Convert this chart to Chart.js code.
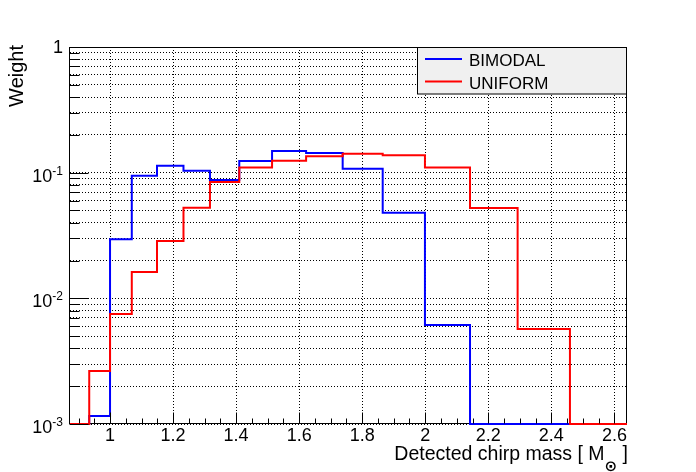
<!DOCTYPE html>
<html>
<head>
<meta charset="utf-8">
<script src="https://cdn.jsdelivr.net/npm/chart.js@4/dist/chart.umd.min.js"></script>
<style>
  html, body { margin: 0; padding: 0; background: #fff; }
  canvas { display: block; }
</style>
</head>
<body>
<canvas id="chart" width="696" height="472"></canvas>
<script>
'use strict';

// bin edges of the histograms (log-spaced)
const binEdges = [0.873, 0.934, 1.000, 1.069, 1.149, 1.233, 1.317, 1.410, 1.514,
    1.622, 1.738, 1.865, 1.999, 2.142, 2.293, 2.459, 2.640];

// weight per bin, 0 = empty bin
const bimodal = [0, 0.00116, 0.0295, 0.0946, 0.1135, 0.1037, 0.0875, 0.1239,
    0.1487, 0.1432, 0.1076, 0.0480, 0.00614, 0, 0, 0];
const uniform = [0, 0.00264, 0.0075, 0.0162, 0.0286, 0.0526, 0.0843, 0.1097,
    0.1245, 0.1349, 0.1415, 0.1374, 0.1097, 0.0524, 0.0057, 0];

const seriesNames = ['BIMODAL', 'UNIFORM'];
const seriesColors = ['#0000ff', '#ff0000'];

const xMin = 0.873;
const xMax = 2.640;
const yMin = 0.001;
const yMax = 1;

const xLabelValues = [1, 1.2, 1.4, 1.6, 1.8, 2, 2.2, 2.4, 2.6];
const xLabels = ['1', '1.2', '1.4', '1.6', '1.8', '2', '2.2', '2.4', '2.6'];
const yLabelValues = [1, 0.1, 0.01, 0.001];
const yLabelExps = ['', '-1', '-2', '-3'];

const FONT = '"Liberation Sans", Arial, Helvetica, sans-serif';
const SUN_FONT = 'bold 15px "DejaVu Sans", sans-serif';

// empty bins sit on the floor of the log axis, as ROOT draws them
function histPoints(values) {
    return binEdges.map((edge, i) => ({
        x: edge,
        y: Math.max(values[Math.min(i, values.length - 1)], yMin),
    }));
}

function isDecade(v) {
    const l = Math.log10(v);
    return Math.abs(l - Math.round(l)) < 1e-6;
}

function isIntegerMantissa(v) {
    const m = v / Math.pow(10, Math.floor(Math.log10(v) + 1e-9));
    return Math.abs(m - Math.round(m)) < 1e-6;
}

function isMajorX(v) {
    return xLabelValues.some(m => Math.abs(m - v) < 1e-6);
}

function frameBox(a) {
    return {
        left: Math.round(a.left) - 0.5,
        right: Math.round(a.right) - 0.5,
        top: Math.round(a.top) + 0.5,
        bottom: Math.round(a.bottom) - 0.5,
    };
}

const rootDecor = {
    id: 'rootDecor',
    beforeDatasetsDraw(chart) {
        // frame goes under the histograms, empty bins cover it
        const {ctx, chartArea} = chart;
        const f = frameBox(chartArea);
        ctx.save();
        ctx.strokeStyle = '#000';
        ctx.lineWidth = 1;
        ctx.strokeRect(f.left, f.top, f.right - f.left, f.bottom - f.top);
        ctx.restore();
    },
    afterDatasetsDraw(chart) {
        const {ctx, chartArea, scales: {x, y}} = chart;
        const f = frameBox(chartArea);
        ctx.save();
        ctx.strokeStyle = '#000';
        ctx.lineWidth = 1;

        // tick marks, pointing into the frame
        ctx.beginPath();
        y.ticks.forEach(t => {
            const py = Math.round(y.getPixelForValue(t.value)) + 0.5;
            const len = isDecade(t.value) ? 19 : 10;
            ctx.moveTo(f.left, py);
            ctx.lineTo(f.left + len, py);
        });
        x.ticks.forEach(t => {
            const px = Math.round(x.getPixelForValue(t.value)) + 0.5;
            const len = isMajorX(t.value) ? 11 : 5;
            ctx.moveTo(px, f.bottom);
            ctx.lineTo(px, f.bottom - len);
        });
        ctx.stroke();

        // x tick labels
        ctx.fillStyle = '#000';
        ctx.font = '18px ' + FONT;
        ctx.textAlign = 'center';
        ctx.textBaseline = 'alphabetic';
        xLabelValues.forEach((v, i) => {
            ctx.fillText(xLabels[i], x.getPixelForValue(v), 441);
        });

        // y tick labels, 10 with a raised exponent
        ctx.textAlign = 'right';
        yLabelValues.forEach((v, i) => {
            const py = y.getPixelForValue(v);
            const lx = 63;
            if (!yLabelExps[i]) {
                ctx.font = '18px ' + FONT;
                ctx.fillText('1', lx, py + 6);
                return;
            }
            ctx.font = '12px ' + FONT;
            const ws = ctx.measureText(yLabelExps[i]).width;
            ctx.fillText(yLabelExps[i], lx, py + 2);
            ctx.font = '18px ' + FONT;
            ctx.fillText('10', lx - ws, py + 9);
        });

        // x title with the solar-mass subscript
        const titleFont = '19.5px ' + FONT;
        ctx.font = titleFont;
        ctx.textAlign = 'left';
        const t1 = 'Detected chirp mass [ M';
        const t3 = ' ]';
        const w1 = ctx.measureText(t1).width;
        const w3 = ctx.measureText(t3).width;
        ctx.font = SUN_FONT;
        const w2 = ctx.measureText('\u2299').width;
        let tx = 628 - (w1 + w2 + w3);
        ctx.font = titleFont;
        ctx.fillText(t1, tx, 460);
        tx += w1;
        ctx.font = SUN_FONT;
        ctx.fillText('\u2299', tx, 471);
        tx += w2;
        ctx.font = titleFont;
        ctx.fillText(t3, tx, 460);

        ctx.save();
        ctx.translate(23, 45);
        ctx.rotate(-Math.PI / 2);
        ctx.textAlign = 'right';
        ctx.font = '20px ' + FONT;
        ctx.fillText('Weight', 0, 0);
        ctx.restore();

        // legend box
        const lx0 = 417.5, ly0 = 47.5, lw = 209, lh = 46.5;
        ctx.fillStyle = '#f0f0f0';
        ctx.fillRect(lx0, ly0, lw, lh);
        ctx.strokeRect(lx0, ly0, lw, lh);
        ctx.font = '17px ' + FONT;
        ctx.textAlign = 'left';
        chart.data.datasets.forEach((ds, i) => {
            const ly = 59 + i * 22.5;
            ctx.strokeStyle = ds.borderColor;
            ctx.lineWidth = 2;
            ctx.beginPath();
            ctx.moveTo(425, ly);
            ctx.lineTo(462, ly);
            ctx.stroke();
            ctx.fillStyle = '#000';
            ctx.fillText(ds.label, 469, ly + 7);
        });
        ctx.restore();
    },
};

new Chart(document.getElementById('chart'), {
    type: 'line',
    data: {
        datasets: [
            {
                label: seriesNames[0],
                data: histPoints(bimodal),
                borderColor: seriesColors[0],
                order: 2,
                clip: false,
            },
            {
                label: seriesNames[1],
                data: histPoints(uniform),
                borderColor: seriesColors[1],
                order: 1,
                clip: false,
            },
        ],
    },
    options: {
        responsive: false,
        devicePixelRatio: 1,
        animation: false,
        layout: {padding: {top: 47, right: 69, left: 0, bottom: 0}},
        elements: {
            line: {borderWidth: 2, stepped: true, tension: 0, fill: false},
            point: {radius: 0, hoverRadius: 0},
        },
        plugins: {legend: {display: false}, tooltip: {enabled: false}},
        scales: {
            x: {
                type: 'linear',
                min: xMin,
                max: xMax,
                ticks: {display: false, stepSize: 0.05, includeBounds: false},
                grid: {
                    drawTicks: false,
                    tickLength: 0,
                    color: c => (c.tick && isMajorX(c.tick.value) ? '#000' : 'rgba(0,0,0,0)'),
                    lineWidth: 1,
                },
                border: {display: false, dash: [1, 2]},
                afterFit: s => { s.height = 48; },
            },
            y: {
                type: 'logarithmic',
                min: yMin,
                max: yMax,
                ticks: {display: false},
                afterBuildTicks: s => {
                    s.ticks = s.ticks.filter(t => isIntegerMantissa(t.value));
                },
                grid: {drawTicks: false, tickLength: 0, color: '#000', lineWidth: 1},
                border: {display: false, dash: [1, 2]},
                afterFit: s => { s.width = 70; },
            },
        },
    },
    plugins: [rootDecor],
});
</script>
</body>
</html>
